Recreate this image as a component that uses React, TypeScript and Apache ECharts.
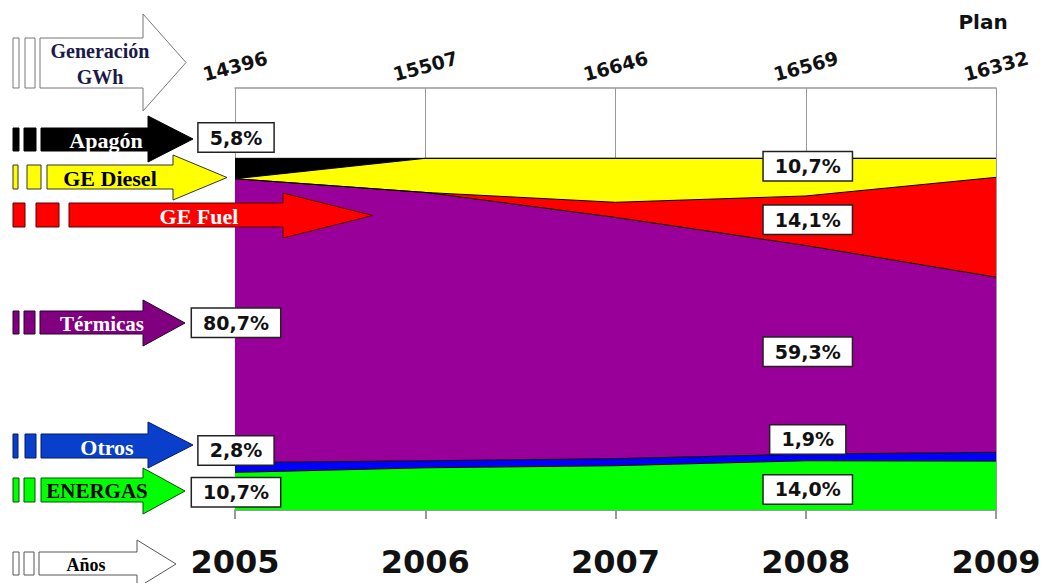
import React, { useEffect, useRef } from 'react';
import * as echarts from 'echarts';

// ---- data ----
const years = ['2005', '2006', '2007', '2008', '2009'];
const generacion = [14396, 15507, 16646, 16569, 16332];
const energas = [10.7, 12.0, 12.6, 14.0, 13.9];
const otros = [2.8, 2.0, 2.0, 1.9, 2.5];
const termicas = [80.7, 76.3, 68.6, 59.3, 49.8];
const geFuel = [0, 0, 4.3, 14.1, 28.4];
const geDiesel = [0, 9.7, 12.5, 10.7, 5.4];
const apagon = [5.8, 0, 0, 0, 0];

const seriesNames = ['ENERGAS', 'Otros', 'Térmicas', 'GE Fuel', 'GE Diesel', 'Apagón'];
const seriesColors = ['#00FF00', '#0000FF', '#990099', '#FF0000', '#FFFF00', '#000000'];
const seriesValues = [energas, otros, termicas, geFuel, geDiesel, apagon];

// annotation boxes: which series / which year, plus vertical nudge in px
const annotSeries = [5, 2, 1, 0, 4, 3, 2, 1, 0];
const annotYear = [0, 0, 0, 0, 3, 3, 3, 3, 3];
const annotDy = [-31, 2, -17, 1, -11, -1, 2, -18, 4];

// ---- legend arrows (layout) ----
type Arrow = {
  label: string; fill: string; stroke: string; color: string;
  bars: number[][]; x0: number; xh: number; xt: number;
  y0: number; y1: number; h0: number; h1: number; tx: number; size: number;
};
const arrows: Arrow[] = [
  { label: 'Generación\nGWh', fill: '#FFFFFF', stroke: '#777777', color: '#1a1a4a', bars: [[13, 6], [25, 10]], x0: 40, xh: 143, xt: 186, y0: 38, y1: 88, h0: 14, h1: 111, tx: 100, size: 20 },
  { label: 'Apagón', fill: '#000000', stroke: '#000000', color: '#FFFFFF', bars: [[13, 6], [24, 12]], x0: 41, xh: 148, xt: 193, y0: 128, y1: 151, h0: 116, h1: 162, tx: 106, size: 22 },
  { label: 'GE Diesel', fill: '#FFFF00', stroke: '#333333', color: '#000000', bars: [[13, 5], [27, 14]], x0: 47, xh: 173, xt: 227, y0: 165, y1: 189, h0: 155, h1: 200, tx: 110, size: 22 },
  { label: 'GE Fuel', fill: '#FF0000', stroke: '#550000', color: '#FFFFFF', bars: [[13, 12], [36, 23]], x0: 69, xh: 283, xt: 373, y0: 203, y1: 227, h0: 193, h1: 238, tx: 199, size: 22 },
  { label: 'Térmicas', fill: '#800080', stroke: '#2a002a', color: '#FFFFFF', bars: [[13, 6], [24, 11]], x0: 40, xh: 143, xt: 185, y0: 311, y1: 334, h0: 300, h1: 346, tx: 102, size: 21 },
  { label: 'Otros', fill: '#0A3FCC', stroke: '#001a66', color: '#FFFFFF', bars: [[13, 5], [25, 11]], x0: 41, xh: 148, xt: 193, y0: 434, y1: 458, h0: 422, h1: 468, tx: 107, size: 22 },
  { label: 'ENERGAS', fill: '#00FF00', stroke: '#005500', color: '#000000', bars: [[13, 6], [24, 11]], x0: 41, xh: 143, xt: 185, y0: 478, y1: 502, h0: 468, h1: 514, tx: 97, size: 21 },
  { label: 'Años', fill: '#FFFFFF', stroke: '#555555', color: '#000000', bars: [[13, 6], [24, 10]], x0: 39, xh: 137, xt: 176, y0: 552, y1: 575, h0: 540, h1: 588, tx: 86, size: 18 },
];

const SANS = '"DejaVu Sans", sans-serif';
const SERIF = '"Liberation Serif", "DejaVu Serif", serif';

function buildLegend(): any[] {
  const els: any[] = [];
  arrows.forEach((a, i) => {
    a.bars.forEach((b, j) => {
      els.push({
        type: 'rect', id: `bar${i}_${j}`, z: 100,
        shape: { x: b[0], y: a.y0, width: b[1], height: a.y1 - a.y0 },
        style: { fill: a.fill, stroke: a.stroke, lineWidth: 1 },
      });
    });
    const tipY = (a.h0 + a.h1) / 2;
    els.push({
      type: 'polygon', id: `arrow${i}`, z: 100,
      shape: {
        points: [
          [a.x0, a.y0], [a.xh, a.y0], [a.xh, a.h0], [a.xt, tipY],
          [a.xh, a.h1], [a.xh, a.y1], [a.x0, a.y1],
        ],
      },
      style: { fill: a.fill, stroke: a.stroke, lineWidth: 1 },
    });
    els.push({
      type: 'text', id: `arrowtxt${i}`, z: 101,
      x: a.tx, y: (a.y0 + a.y1) / 2 + 1,
      style: {
        text: a.label, fill: a.color,
        font: `bold ${a.size}px ${SERIF}`,
        align: 'center', verticalAlign: 'middle',
        textAlign: 'center', textVerticalAlign: 'middle',
        lineHeight: 26,
      },
    });
  });
  els.push({
    type: 'text', id: 'plan', z: 101, x: 983, y: 22,
    style: {
      text: 'Plan', fill: '#111', font: `bold 20px ${SANS}`,
      align: 'center', verticalAlign: 'middle', textAlign: 'center', textVerticalAlign: 'middle',
    },
  });
  return els;
}

function fmtPct(v: number): string {
  return v.toFixed(1).replace('.', ',') + '%';
}

export default function App() {
  const ref = useRef<HTMLDivElement>(null);
  useEffect(() => {
    if (!ref.current) return;
    const chart = echarts.init(ref.current, undefined, { renderer: 'svg' });
    const option: any = {
      animation: false,
      backgroundColor: '#FFFFFF',
      grid: { left: 235, right: 48, top: 88, bottom: 73, containLabel: false },
      xAxis: [
        {
          type: 'category', data: years, boundaryGap: false, position: 'bottom',
          axisLine: { show: true, lineStyle: { color: '#999', width: 2 } },
          axisTick: { show: true, length: 9, lineStyle: { color: '#999', width: 2 } },
          splitLine: { show: true, lineStyle: { color: '#999', width: 1 } },
          axisLabel: {
            color: '#111', fontSize: 32, fontWeight: 'bold', fontFamily: SANS, margin: 36,
            interval: 0,
          },
        },
        {
          type: 'category', data: years, boundaryGap: false, position: 'top',
          axisLine: { show: true, lineStyle: { color: '#999', width: 1.5 } },
          axisTick: { show: false },
          splitLine: { show: false },
          axisLabel: {
            interval: 0, rotate: -15, margin: 22, align: 'center', verticalAlign: 'middle',
            color: '#111', fontSize: 19, fontWeight: 'bold', fontFamily: SANS,
            formatter: (_v: string, idx: number) => String(generacion[idx]),
          },
        },
      ],
      yAxis: { type: 'value', min: 0, max: 120, show: false },
      series: seriesNames.map((n, i) => ({
        name: n, type: 'line', stack: 'total', data: seriesValues[i],
        symbol: 'none', showSymbol: false, xAxisIndex: 0, yAxisIndex: 0,
        lineStyle: { color: '#000', width: 1 },
        itemStyle: { color: seriesColors[i] },
        areaStyle: { color: seriesColors[i], opacity: 1 },
        z: 2,
      })),
    };
    chart.setOption(option);

    const annots: any[] = annotSeries.map((si, k) => {
      const yi = annotYear[k];
      let below = 0;
      for (let s = 0; s < si; s++) below += seriesValues[s][yi];
      const v = seriesValues[si][yi];
      const p = chart.convertToPixel({ xAxisIndex: 0, yAxisIndex: 0 } as any, [yi, below + v / 2]) as number[];
      return {
        type: 'text', id: `annot${k}`, z: 110,
        x: p[0] + (yi === 0 ? 1 : 2), y: p[1] + annotDy[k],
        style: {
          text: fmtPct(v), fill: '#111', font: `bold 19px ${SANS}`,
          align: 'center', verticalAlign: 'middle', textAlign: 'center', textVerticalAlign: 'middle',
          backgroundColor: '#FFFFFF', borderColor: '#222', borderWidth: 1.5,
          padding: [5, 11, 4, 11],
        },
      };
    });
    chart.setOption({ graphic: [...buildLegend(), ...annots] });
    return () => chart.dispose();
  }, []);
  return (
    <div
      ref={ref}
      style={{ position: 'fixed', left: 0, top: 0, width: 1044, height: 583 }}
    />
  );
}
